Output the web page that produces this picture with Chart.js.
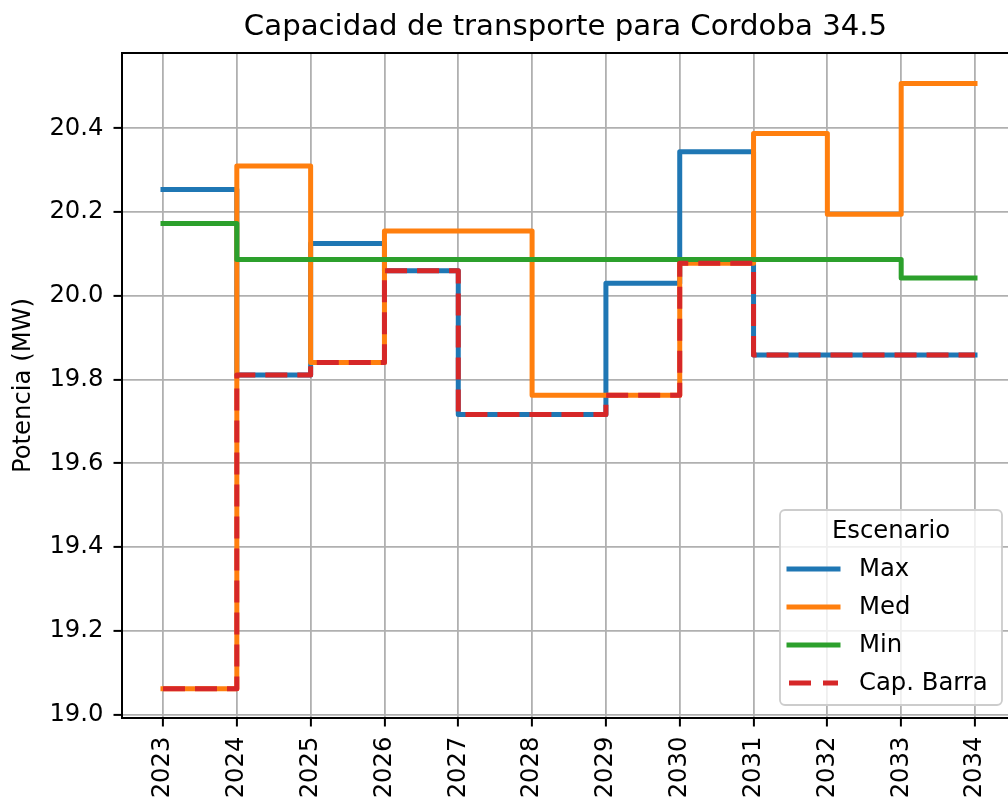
<!DOCTYPE html>
<html>
<head>
<meta charset="utf-8">
<script src="https://cdn.jsdelivr.net/npm/chart.js@4"></script>
<style>
  html, body { margin: 0; padding: 0; background: #fff; overflow: hidden; }
  #wrap { width: 1008px; height: 802px; }
</style>
</head>
<body>
<div id="wrap"><canvas id="c" width="1008" height="802"></canvas></div>
<script>
// ---- data ----
const years = [2023, 2024, 2025, 2026, 2027, 2028, 2029, 2030, 2031, 2032, 2033, 2034];
const maxValues = [20.254, 19.811, 20.125, 20.060, 19.717, 19.717, 20.030, 20.344, 19.859, 19.859, 19.859, 19.859];
const medValues = [19.062, 20.310, 19.841, 20.155, 20.155, 19.763, 19.763, 20.078, 20.388, 20.195, 20.507, 20.507];
const minValues = [20.173, 20.087, 20.087, 20.087, 20.087, 20.087, 20.087, 20.087, 20.087, 20.087, 20.043, 20.043];
const capValues = [19.062, 19.811, 19.841, 20.060, 19.717, 19.717, 19.763, 20.078, 19.859, 19.859, 19.859, 19.859];
const yTicks = [19.0, 19.2, 19.4, 19.6, 19.8, 20.0, 20.2, 20.4];
const xTicks = years;
const seriesNames = ['Max', 'Med', 'Min', 'Cap. Barra'];
const titleText = 'Capacidad de transporte para Cordoba 34.5';
const yLabel = 'Potencia (MW)';
const legendTitle = 'Escenario';

const FONT = 'DejaVu Sans';
const FS = 24.3;
const TFS = 29.2;
const pts = arr => years.map((x, i) => ({ x: x, y: arr[i] }));

const colors = ['#1f77b4', '#ff7f0e', '#2ca02c', '#d62728'];
const LW = 5;

const datasets = [maxValues, medValues, minValues, capValues].map((arr, i) => ({
  label: seriesNames[i],
  data: pts(arr),
  borderColor: colors[i],
  backgroundColor: colors[i],
  borderWidth: LW,
  stepped: 'before',
  pointRadius: 0,
  fill: false,
  borderDash: i === 3 ? [22, 10] : [],
  borderCapStyle: i === 3 ? 'butt' : 'square',
  borderJoinStyle: 'round',
  order: 10 - i
}));

const decor = {
  id: 'decor',
  afterDraw(chart) {
    const ctx = chart.ctx;
    const a = chart.chartArea;
    ctx.save();
    // top spine
    ctx.strokeStyle = '#000';
    ctx.lineWidth = 2;
    ctx.beginPath();
    ctx.moveTo(a.left - 1, a.top);
    ctx.lineTo(a.right, a.top);
    ctx.stroke();

    // title
    ctx.fillStyle = '#000';
    ctx.font = TFS + 'px "' + FONT + '"';
    ctx.textAlign = 'center';
    ctx.textBaseline = 'alphabetic';
    ctx.fillText(titleText, 565.5, 35);

    // legend
    const bx = 780, by = 510, bw = 222, bh = 195, r = 5;
    ctx.beginPath();
    ctx.moveTo(bx + r, by);
    ctx.lineTo(bx + bw - r, by);
    ctx.arcTo(bx + bw, by, bx + bw, by + r, r);
    ctx.lineTo(bx + bw, by + bh - r);
    ctx.arcTo(bx + bw, by + bh, bx + bw - r, by + bh, r);
    ctx.lineTo(bx + r, by + bh);
    ctx.arcTo(bx, by + bh, bx, by + bh - r, r);
    ctx.lineTo(bx, by + r);
    ctx.arcTo(bx, by, bx + r, by, r);
    ctx.closePath();
    ctx.fillStyle = 'rgba(255,255,255,0.8)';
    ctx.fill();
    ctx.strokeStyle = '#cccccc';
    ctx.lineWidth = 1.8;
    ctx.stroke();

    ctx.font = FS + 'px "' + FONT + '"';
    ctx.fillStyle = '#000';
    ctx.textAlign = 'center';
    ctx.textBaseline = 'middle';
    ctx.fillText(legendTitle, 891, 532);

    const rows = [569, 607, 645, 683];
    chart.data.datasets.forEach((ds, i) => {
      const y = rows[i];
      ctx.strokeStyle = ds.borderColor;
      ctx.lineWidth = LW;
      if (ds.borderDash.length) {
        ctx.setLineDash([22, 12]);
        ctx.lineCap = 'butt';
        ctx.beginPath();
        ctx.moveTo(789, y);
        ctx.lineTo(838, y);
        ctx.stroke();
        ctx.setLineDash([]);
      } else {
        ctx.lineCap = 'square';
        ctx.beginPath();
        ctx.moveTo(789, y);
        ctx.lineTo(838, y);
        ctx.stroke();
      }
      ctx.fillStyle = '#000';
      ctx.textAlign = 'left';
      ctx.fillText(ds.label, 859, y + 1);
    });
    ctx.restore();
  }
};

const gridOpts = {
  color: '#b0b0b0',
  lineWidth: 1.8,
  tickColor: '#000',
  tickLength: 8.5,
  tickWidth: 2
};

new Chart(document.getElementById('c'), {
  type: 'line',
  data: { datasets: datasets },
  options: {
    responsive: false,
    animation: false,
    events: [],
    layout: { padding: { top: 53, left: 0, right: 0, bottom: 0 } },
    plugins: {
      legend: { display: false },
      title: { display: false },
      tooltip: { enabled: false }
    },
    scales: {
      x: {
        type: 'linear',
        min: 2022.4446,
        max: 2034.447,
        afterBuildTicks: s => { s.ticks = xTicks.map(v => ({ value: v })); },
        afterFit: s => { s.height = 84; s.paddingLeft = 0; s.paddingRight = 0; },
        ticks: {
          autoSkip: false,
          minRotation: 90,
          maxRotation: 90,
          padding: 10,
          color: '#000',
          font: { family: FONT, size: FS },
          callback: v => String(v)
        },
        grid: gridOpts,
        border: { color: '#000', width: 2 }
      },
      y: {
        type: 'linear',
        min: 18.992,
        max: 20.58,
        afterBuildTicks: s => { s.ticks = yTicks.map(v => ({ value: v })); },
        afterFit: s => { s.width = 122; s.paddingTop = 0; s.paddingBottom = 0; },
        ticks: {
          padding: 10,
          color: '#000',
          font: { family: FONT, size: FS },
          callback: v => v.toFixed(1)
        },
        title: {
          display: true,
          text: yLabel,
          color: '#000',
          font: { family: FONT, size: FS },
          padding: { top: 9, bottom: 0 }
        },
        grid: gridOpts,
        border: { color: '#000', width: 2 }
      }
    }
  },
  plugins: [decor]
});
</script>
</body>
</html>
